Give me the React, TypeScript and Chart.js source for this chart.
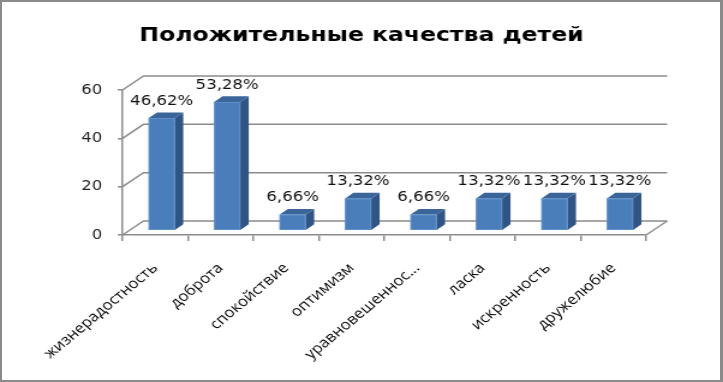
import React, { useEffect, useRef } from "react";
import { Chart, registerables } from "chart.js";

Chart.register(...registerables);

const TITLE = "Положительные качества детей";
const CATEGORIES = [
  "жизнерадостность",
  "доброта",
  "спокойствие",
  "оптимизм",
  "уравновешеннос...",
  "ласка",
  "искренность",
  "дружелюбие",
];
const VALUES = [46.62, 53.28, 6.66, 13.32, 6.66, 13.32, 13.32, 13.32];
const Y_MIN = 0;
const Y_MAX = 60;
const Y_STEP = 20;

const OUT_W = 723;
const OUT_H = 382;
const CW = 602; // internal canvas width, stretched horizontally to OUT_W
const AREA_LEFT = 102;
const AREA_RIGHT = 538;
const AREA_BOTTOM = 235;

const DX = 17.5;
const DY = 14;
const GRID = "#8c8c8c";

const fmt = (v: number) => v.toFixed(2).replace(".", ",") + "%";

const threeD = {
  id: "threeD",
  beforeDatasetsDraw(chart: any) {
    const { ctx, chartArea, scales } = chart;
    const { left, right, bottom } = chartArea;
    const y = scales.y;
    ctx.save();
    ctx.strokeStyle = GRID;
    ctx.lineWidth = 1.5;
    y.ticks.forEach((t: any) => {
      const py = y.getPixelForValue(t.value);
      ctx.beginPath();
      ctx.moveTo(left, py);
      ctx.lineTo(left + DX, py - DY);
      ctx.lineTo(right + DX, py - DY);
      ctx.stroke();
    });
    ctx.beginPath();
    ctx.moveTo(right, bottom);
    ctx.lineTo(right + DX, bottom - DY);
    ctx.stroke();
    ctx.restore();
  },
  afterDatasetsDraw(chart: any) {
    const { ctx } = chart;
    const meta = chart.getDatasetMeta(0);
    const bx0 = DX * 0.31;
    const by0 = DY * 0.31;
    const bdx = DX * 0.4;
    const bdy = DY * 0.4;
    ctx.save();
    meta.data.forEach((el: any, i: number) => {
      const { x, y, base, width } = el.getProps(["x", "y", "base", "width"], true);
      const xL = x - width / 2 + bx0;
      const xR = x + width / 2 + bx0;
      const top = y - by0;
      const bot = base - by0;
      // side
      ctx.fillStyle = "#2f5485";
      ctx.beginPath();
      ctx.moveTo(xR, top);
      ctx.lineTo(xR + bdx, top - bdy);
      ctx.lineTo(xR + bdx, bot - bdy);
      ctx.lineTo(xR, bot);
      ctx.closePath();
      ctx.fill();
      // top
      ctx.fillStyle = "#3b6499";
      ctx.beginPath();
      ctx.moveTo(xL, top);
      ctx.lineTo(xL + bdx, top - bdy);
      ctx.lineTo(xR + bdx, top - bdy);
      ctx.lineTo(xR, top);
      ctx.closePath();
      ctx.fill();
      // front
      ctx.fillStyle = "#4a7ebb";
      ctx.fillRect(xL, top, xR - xL, bot - top);
      ctx.strokeStyle = "#5f90c9";
      ctx.lineWidth = 1;
      ctx.strokeRect(xL + 0.5, top + 0.5, xR - xL - 1, bot - top - 1);
      // label
      ctx.fillStyle = "#111";
      ctx.font = "13.8px 'DejaVu Sans'";
      ctx.textAlign = "center";
      ctx.textBaseline = "middle";
      ctx.fillText(fmt(VALUES[i]), (xL + xR) / 2, top - 17);
    });
    ctx.restore();
  },
};

export default function App() {
  const ref = useRef<HTMLCanvasElement | null>(null);

  useEffect(() => {
    document.body.style.margin = "0";
    const canvas = ref.current;
    if (!canvas) return;
    const chart = new Chart(canvas, {
      type: "bar",
      data: {
        labels: CATEGORIES,
        datasets: [
          {
            data: VALUES,
            backgroundColor: "rgba(0,0,0,0)",
            borderWidth: 0,
            barPercentage: 0.4,
            categoryPercentage: 1,
          },
        ],
      },
      options: {
        responsive: false,
        animation: false,
        devicePixelRatio: 1,
        layout: { padding: { left: 0, right: 0, top: 0, bottom: 0 } },
        plugins: {
          legend: { display: false },
          tooltip: { enabled: false },
          title: {
            display: true,
            text: TITLE,
            color: "#000",
            font: { family: "'DejaVu Sans'", size: 19.6, weight: "bold" },
            padding: { top: 24, bottom: 42.5 },
          },
        },
        scales: {
          x: {
            type: "category",
            offset: true,
            grid: {
              display: true,
              drawOnChartArea: false,
              drawTicks: true,
              tickLength: 6,
              color: GRID,
              lineWidth: 1.5,
              offset: true,
            },
            border: { display: true, color: GRID, width: 1.5 },
            ticks: {
              autoSkip: false,
              minRotation: 45,
              maxRotation: 45,
              color: "#000",
              padding: 19,
              font: { family: "'Open Sans'", size: 14 },
            },
            afterFit: (s: any) => {
              s.height = OUT_H - AREA_BOTTOM;
            },
          },
          y: {
            min: Y_MIN,
            max: Y_MAX,
            ticks: {
              stepSize: Y_STEP,
              color: "#222",
              padding: 13,
              font: { family: "'DejaVu Sans'", size: 13.5 },
            },
            grid: {
              drawOnChartArea: false,
              drawTicks: true,
              tickLength: 4,
              color: GRID,
              lineWidth: 1.5,
            },
            border: { display: true, color: GRID, width: 1.5 },
            afterFit: (s: any) => {
              s.width = AREA_LEFT;
            },
          },
          yRightSpace: {
            type: "linear",
            position: "right",
            display: true,
            min: Y_MIN,
            max: Y_MAX,
            ticks: { display: false },
            grid: { display: false, drawTicks: false },
            border: { display: false },
            afterFit: (s: any) => {
              s.width = CW - AREA_RIGHT;
            },
          },
        },
      },
      plugins: [threeD],
    });
    return () => chart.destroy();
  }, []);

  return (
    <div style={{ position: "fixed", left: 0, top: 0, width: OUT_W, height: OUT_H, background: "#fff" }}>
      <canvas
        ref={ref}
        width={CW}
        height={OUT_H}
        style={{ width: OUT_W, height: OUT_H, display: "block" }}
      />
      <div
        style={{
          position: "absolute",
          left: 0,
          top: 0,
          width: OUT_W,
          height: OUT_H,
          boxSizing: "border-box",
          borderStyle: "solid",
          borderColor: "#8a8a8a",
          borderWidth: "2px 3px 2px 2px",
          pointerEvents: "none",
        }}
      />
    </div>
  );
}
